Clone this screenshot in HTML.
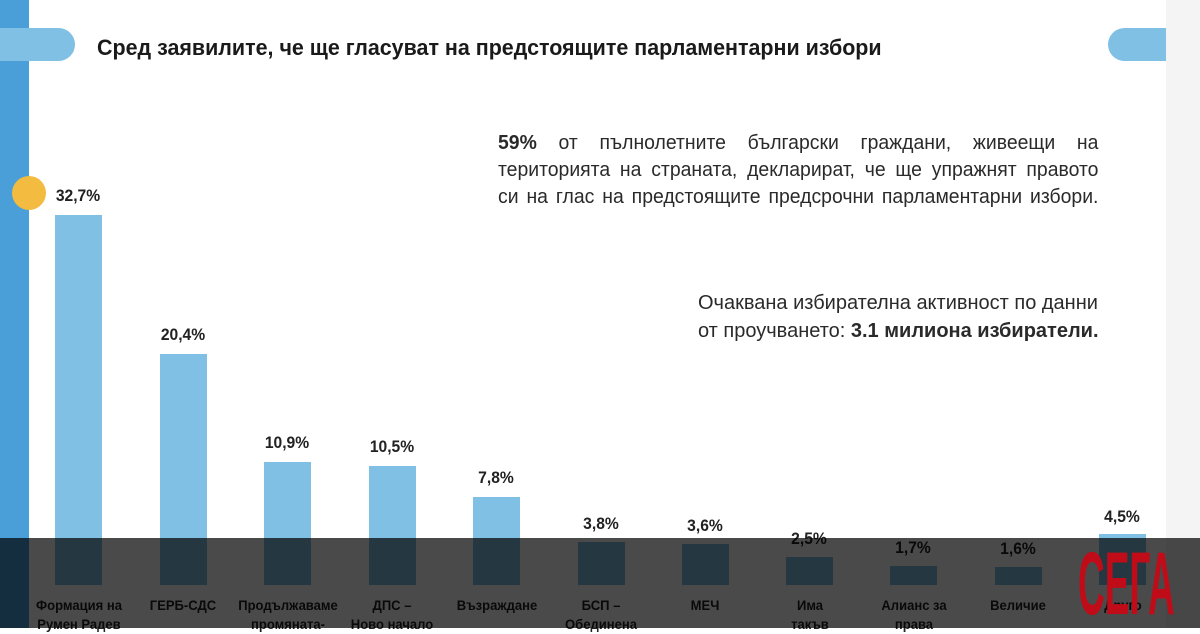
<!DOCTYPE html>
<html><head><meta charset="utf-8"><style>
*{margin:0;padding:0;box-sizing:border-box}
body{width:1200px;height:628px;position:relative;overflow:hidden;background:#fff;font-family:"Liberation Sans",sans-serif;color:#222}
.a{position:absolute}
.bar{position:absolute;width:47px;background:#7fc0e4;bottom:43px}
.v{position:absolute;width:80px;text-align:center;font-weight:bold;font-size:17px;color:#222;transform:scaleX(0.92)}
.l{position:absolute;width:120px;text-align:center;font-weight:bold;font-size:14px;line-height:19px;color:#222;top:596px;transform:scaleX(0.93)}
.ln{position:absolute;width:619px;font-size:20px;line-height:27px;text-align:justify;text-align-last:justify;color:#2a2a2a;transform:scaleX(0.97);transform-origin:0 0}
</style></head><body>
<div class="a" style="left:0;top:0;width:29px;height:628px;background:#4a9fd8"></div>
<div class="a" style="left:1166px;top:0;width:34px;height:628px;background:#f4f4f4"></div>
<div class="a" style="left:0;top:28px;width:75px;height:33px;background:#7fc0e4;border-radius:0 17px 17px 0"></div>
<div class="a" style="left:1108px;top:28px;width:58px;height:33px;background:#7fc0e4;border-radius:17px 0 0 17px"></div>
<div class="a" style="left:97px;top:35px;font-size:22px;font-weight:bold;color:#1a1a1a;transform:scaleX(0.975);transform-origin:0 0;white-space:nowrap">Сред заявилите, че ще гласуват на предстоящите парламентарни избори</div>
<div class="a" style="left:12px;top:176px;width:34px;height:34px;border-radius:50%;background:#f3bb3f"></div>
<div class="ln" style="left:498px;top:130px"><b>59%</b> от пълнолетните български граждани, живеещи на</div>
<div class="ln" style="left:498px;top:157px">територията на страната, декларират, че ще упражнят правото</div>
<div class="ln" style="left:498px;top:184px">си на глас на предстоящите предсрочни парламентарни избори.</div>
<div class="a" style="left:698px;top:289px;font-size:20px;line-height:28px;color:#2a2a2a;white-space:nowrap">Очаквана избирателна активност по данни<br>от проучването: <b>3.1 милиона избиратели.</b></div>

<div class="bar" style="left:55px;height:370px"></div><div class="v" style="left:38px;top:186px">32,7%</div>
<div class="bar" style="left:160px;height:231px"></div><div class="v" style="left:143px;top:325px">20,4%</div>
<div class="bar" style="left:264px;height:123px"></div><div class="v" style="left:247px;top:433px">10,9%</div>
<div class="bar" style="left:369px;height:119px"></div><div class="v" style="left:352px;top:437px">10,5%</div>
<div class="bar" style="left:473px;height:88px"></div><div class="v" style="left:456px;top:468px">7,8%</div>
<div class="bar" style="left:578px;height:43px"></div><div class="v" style="left:561px;top:514px">3,8%</div>
<div class="bar" style="left:682px;height:41px"></div><div class="v" style="left:665px;top:516px">3,6%</div>
<div class="bar" style="left:786px;height:28px"></div><div class="v" style="left:769px;top:529px">2,5%</div>
<div class="bar" style="left:890px;height:19px"></div><div class="v" style="left:873px;top:538px">1,7%</div>
<div class="bar" style="left:995px;height:18px"></div><div class="v" style="left:978px;top:539px">1,6%</div>
<div class="bar" style="left:1099px;height:51px"></div><div class="v" style="left:1082px;top:507px">4,5%</div>

<div class="l" style="left:19px">Формация на<br>Румен Радев</div>
<div class="l" style="left:123px">ГЕРБ-СДС</div>
<div class="l" style="left:228px">Продължаваме<br>промяната-</div>
<div class="l" style="left:332px">ДПС –<br>Ново начало</div>
<div class="l" style="left:437px">Възраждане</div>
<div class="l" style="left:541px">БСП –<br>Обединена</div>
<div class="l" style="left:645px">МЕЧ</div>
<div class="l" style="left:750px">Има<br>такъв</div>
<div class="l" style="left:854px">Алианс за<br>права</div>
<div class="l" style="left:958px">Величие</div>
<div class="l" style="left:1063px">Друго</div>

<div class="a" style="left:0;top:538px;width:1200px;height:90px;background:rgba(0,0,0,0.71)"></div>
<div class="a" style="left:1078px;top:544px;width:100px;height:80px;overflow:hidden">
<div style="font-family:'Liberation Sans',sans-serif;font-weight:bold;font-size:50px;color:#c00c18;transform:scale(0.74,1.78);transform-origin:0 0;line-height:50px;white-space:nowrap;margin-top:-5px">СЕГА</div>
</div>
</body></html>
